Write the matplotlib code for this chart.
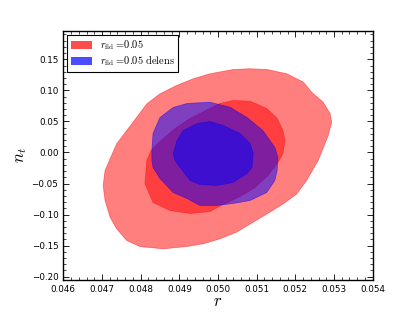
import numpy as np
import matplotlib
matplotlib.use('Agg')
import matplotlib.pyplot as plt
from matplotlib.ticker import AutoMinorLocator, MultipleLocator
from matplotlib.patches import Patch

plt.rcParams['mathtext.fontset'] = 'cm'

# contour outlines, (r, n_t)
# r_fid = 0.05 , 2 sigma
fid_2s_r = [0.04979, 0.05040, 0.05083, 0.05126, 0.05178, 0.05221, 0.05242, 0.05272,
            0.05290, 0.05294, 0.05285, 0.05259, 0.05229, 0.05204, 0.05169, 0.05134,
            0.05091, 0.05048, 0.05005, 0.04962, 0.04919, 0.04859, 0.04798, 0.04764,
            0.04738, 0.04721, 0.04708, 0.04703, 0.04708, 0.04721, 0.04738, 0.04764,
            0.04790, 0.04816, 0.04850, 0.04893, 0.04936]
fid_2s_nt = [0.1267, 0.1337, 0.1348, 0.1337, 0.1267, 0.1132, 0.0971, 0.0810,
             0.0623, 0.0488, 0.0274, -0.0129, -0.0451, -0.0665, -0.0826, -0.0961,
             -0.1122, -0.1283, -0.1390, -0.1470, -0.1514, -0.1551, -0.1514, -0.1417,
             -0.1229, -0.1042, -0.0773, -0.0531, -0.0290, -0.0101, 0.0140, 0.0354,
             0.0568, 0.0784, 0.0945, 0.1079, 0.1187]

# r_fid = 0.05 , 1 sigma
fid_1s_r = [0.04816, 0.04827, 0.04850, 0.04889, 0.04928, 0.04979, 0.05005, 0.05039,
            0.05083, 0.05126, 0.05153, 0.05168, 0.05173, 0.05168, 0.05155, 0.05129,
            0.05096, 0.05057, 0.05013, 0.04979, 0.04928, 0.04876, 0.04832, 0.04811,
            0.04814]
fid_1s_nt = [-0.0129, 0.0032, 0.0177, 0.0386, 0.0548, 0.0709, 0.0789, 0.0837,
             0.0826, 0.0709, 0.0548, 0.0354, 0.0193, -0.0016, -0.0161, -0.0370,
             -0.0564, -0.0709, -0.0837, -0.0950, -0.0982, -0.0934, -0.0805, -0.0499,
             -0.0290]

# delensed , 2 sigma
del_2s_r = [0.04829, 0.04829, 0.04832, 0.04850, 0.04884, 0.04920, 0.04979, 0.05031,
            0.05075, 0.05116, 0.05147, 0.05155, 0.05153, 0.05147, 0.05126, 0.05083,
            0.05039, 0.04997, 0.04953, 0.04920, 0.04884, 0.04850, 0.04832]
del_2s_nt = [-0.0129, 0.0032, 0.0306, 0.0564, 0.0725, 0.0789, 0.0810, 0.0729,
             0.0564, 0.0354, 0.0081, -0.0081, -0.0290, -0.0451, -0.0644, -0.0773,
             -0.0821, -0.0853, -0.0853, -0.0741, -0.0644, -0.0419, -0.0242]

# delensed , 1 sigma
del_1s_r = [0.04889, 0.04884, 0.04894, 0.04910, 0.04946, 0.04979, 0.05013, 0.05057,
            0.05083, 0.05091, 0.05088, 0.05075, 0.05039, 0.04997, 0.04953, 0.04928,
            0.04902]
del_1s_nt = [-0.0129, -0.0016, 0.0193, 0.0354, 0.0467, 0.0499, 0.0435, 0.0306,
             0.0145, -0.0016, -0.0242, -0.0338, -0.0483, -0.0531, -0.0515, -0.0451,
             -0.0242]

labels = [r'$r_{\rm fid}=\!0.05$', r'$r_{\rm fid}=\!0.05\ {\rm delens}$']

fig = plt.figure(figsize=(4.15, 3.12), dpi=100)
ax = fig.add_axes([63.3/415, 32/312, 309.4/415, 249/312])

ax.fill(fid_2s_r, fid_2s_nt, color='red', alpha=0.5, lw=0.5)
ax.fill(fid_1s_r, fid_1s_nt, color='red', alpha=0.5, lw=0.5)
ax.fill(del_2s_r, del_2s_nt, color='blue', alpha=0.5, lw=0.5)
ax.fill(del_1s_r, del_1s_nt, color='blue', alpha=0.5, lw=0.5)

ax.set_xlim(0.046, 0.054)
ax.set_ylim(-0.2053, 0.1956)
ax.xaxis.set_major_locator(MultipleLocator(0.001))
ax.yaxis.set_major_locator(MultipleLocator(0.05))
ax.xaxis.set_minor_locator(AutoMinorLocator(5))
ax.yaxis.set_minor_locator(AutoMinorLocator(5))
ax.tick_params(which='both', direction='in', top=True, right=True, labelsize=6.3)
ax.tick_params(which='major', length=4, width=0.6)
ax.tick_params(which='minor', length=2, width=0.5)
for s in ax.spines.values():
    s.set_linewidth(1.0)

ax.set_xlabel(r'$r$', fontsize=12, labelpad=-1)
ax.set_ylabel(r'$n_t$', fontsize=12, labelpad=2)

handles = [Patch(facecolor='red', alpha=0.7, lw=0), Patch(facecolor='blue', alpha=0.7, lw=0)]
leg = ax.legend(handles, labels, loc='upper left', fontsize=7.5, fancybox=False,
                handlelength=2.1, handleheight=0.8, handletextpad=0.7,
                labelspacing=0.25, borderpad=0.35, borderaxespad=0.35, framealpha=1)
leg.get_frame().set_edgecolor('black')
leg.get_frame().set_linewidth(0.8)

fig.savefig('out.png', dpi=100)
